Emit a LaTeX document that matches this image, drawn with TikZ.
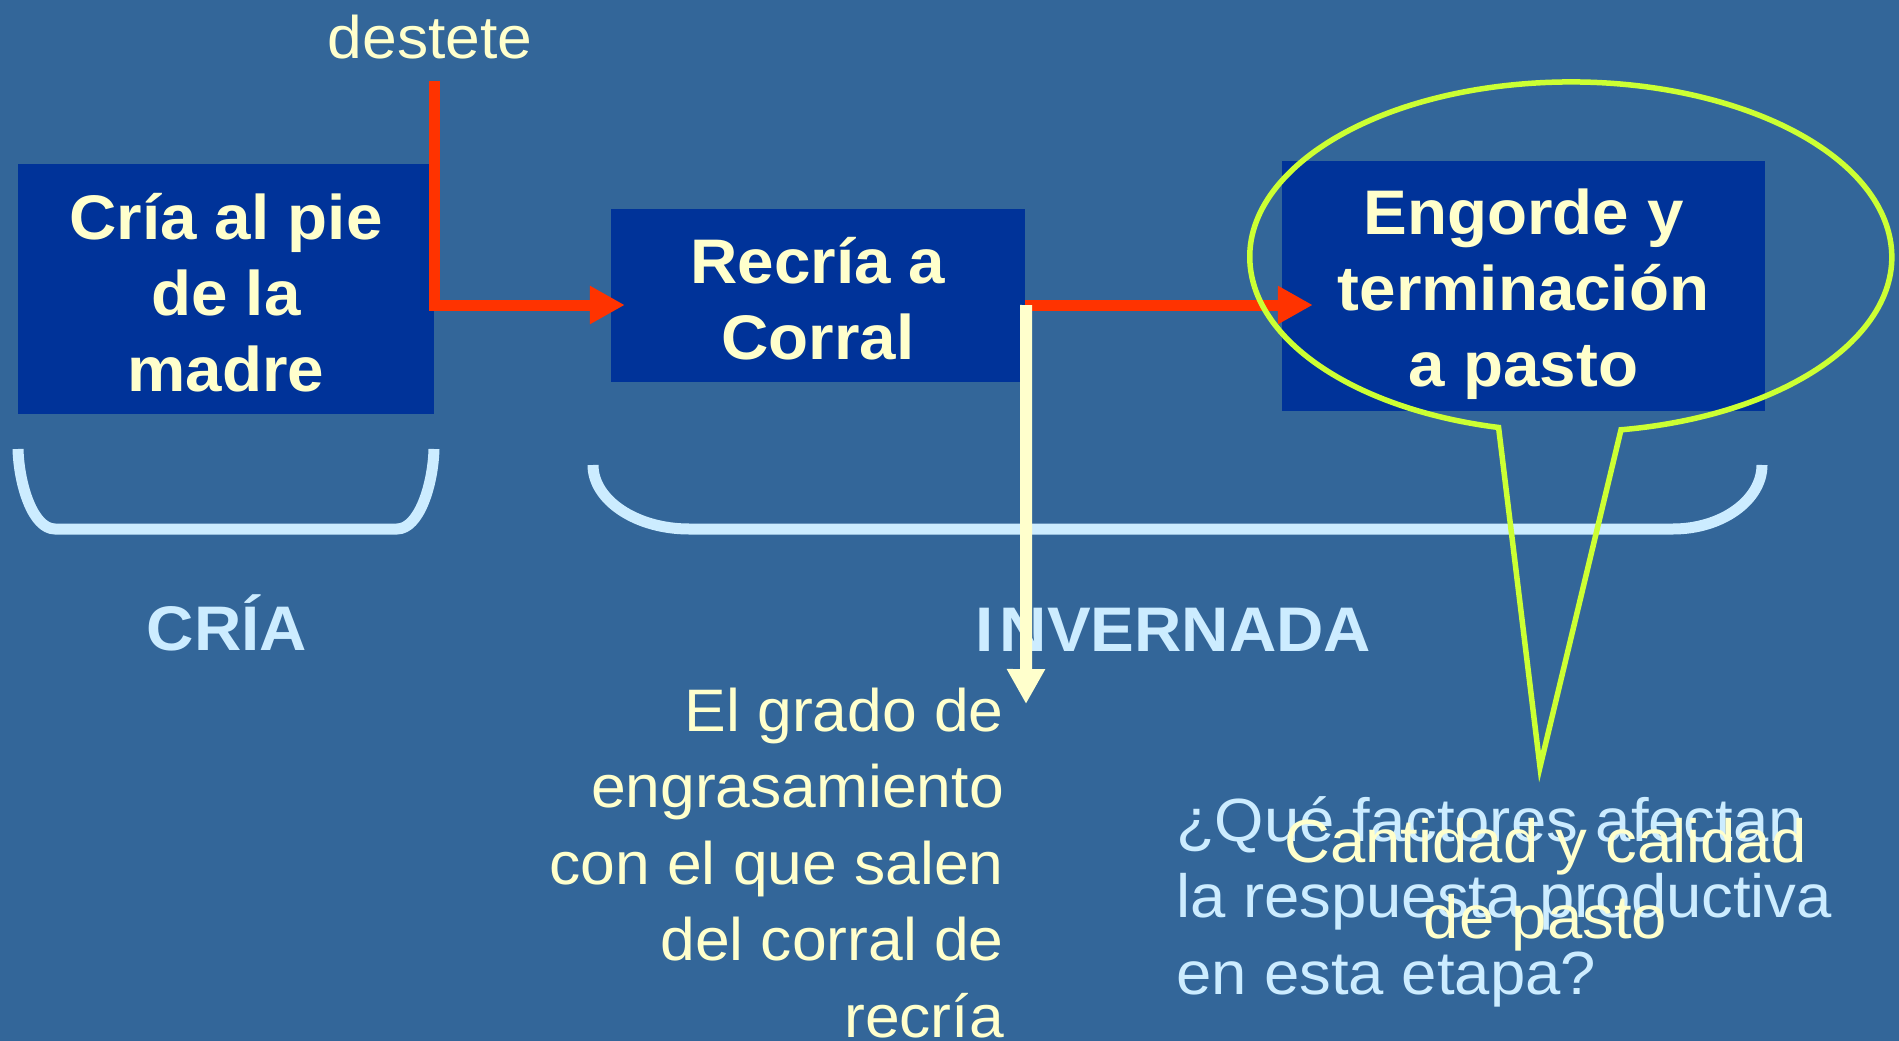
\documentclass[tikz,border=0pt]{standalone}
\usepackage{fontspec}
\setmainfont{Liberation Sans}
\newfontfamily\regf[FakeStretch=1.04]{Liberation Sans}
\usetikzlibrary{arrows.meta}
\definecolor{bgblue}{HTML}{336699}
\definecolor{boxblue}{HTML}{003399}
\definecolor{paleyellow}{HTML}{FFFFCC}
\definecolor{paleblue}{HTML}{CCECFF}
\definecolor{arrowred}{HTML}{FF3300}
\definecolor{limegreen}{HTML}{CCFF33}
\newcommand{\topstrut}{\rule{0pt}{55pt}}
\begin{document}
\begin{tikzpicture}[x=1pt,y=-1pt,
  stagebox/.style={fill=boxblue, inner sep=0pt},
  stagetext/.style={text=paleyellow, align=center, inner sep=0pt, anchor=north,
    font=\regf\bfseries\fontsize{63}{76}\selectfont},
  phase/.style={text=paleblue, inner sep=0pt, anchor=base,
    font=\regf\bfseries\fontsize{63}{76}\selectfont},
  note/.style={inner sep=0pt, font=\regf\fontsize{60}{76.5}\selectfont},
  bracket/.style={draw=paleblue, line width=11pt},
  redarrow/.style={draw=arrowred, line width=11pt, line join=miter, -{Triangle[length=35pt,width=36pt]}},
  yellowarrow/.style={draw=paleyellow, line width=12pt, -{Triangle[length=35pt,width=36pt]}},
  callout/.style={draw=limegreen, line width=5.5pt, line join=miter, miter limit=25}
]
\fill[bgblue] (0,0) rectangle (1899,1041);
\useasboundingbox (0,0) rectangle (1899,1041);

% brackets
\draw[bracket] (18,449) .. controls (19,485) and (33,529) .. (55,529) -- (397,529)
  .. controls (419,529) and (433,485) .. (434,449);
\draw[bracket] (593,465) .. controls (593,500) and (636,529) .. (689,529) -- (1673,529)
  .. controls (1722,529) and (1762,500) .. (1762,465);

% stage boxes
\node[stagebox, minimum width=416pt, minimum height=250pt] (cria) at (226,289) {};
\node[stagebox, minimum width=414pt, minimum height=173pt] (recria) at (818,295.5) {};
\node[stagebox, minimum width=483pt, minimum height=250pt] (engorde) at (1523.5,286) {};
\node[stagetext] (criatxt) at (226,184) {\topstrut Cría al pie\\de la\\madre};
\node[stagetext] (recriatxt) at (818,228) {\topstrut Recría a\\Corral};
\node[stagetext] (engordetxt) at (1523.5,179) {\topstrut Engorde y\\terminación\\a pasto};

% phase labels
\node[phase] (lcria) at (227,650) {CRÍA};
\node[phase] (linv) at (1173.5,651) {I\kern6pt NVERNADA};

% notes
\node[note, text=paleyellow, anchor=base] (destete) at (430,59) {destete};
\node[note, text=paleyellow, align=right, anchor=north east] (grado) at (1004,676)
  {\topstrut El grado de\\engrasamiento\\con el que salen\\del corral de\\recría};
\node[note, text=paleblue, align=left, anchor=north west, font=\regf\fontsize{61}{76.5}\selectfont] (pregunta) at (1176,786)
  {\topstrut¿Qué factores afectan\\la respuesta productiva\\en esta etapa?};
\node[note, text=paleyellow, align=center, anchor=north, font=\regf\fontsize{61}{76}\selectfont] (pasto) at (1545.5,807)
  {\topstrut Cantidad y calidad\\de pasto};

% arrows
\coordinate (wean) at (434,81);
\draw[redarrow] (wean) |- ([xshift=14pt,yshift=-9.5pt]recria.west);
\draw[redarrow] ([yshift=-9.5pt]recria.east) -- ([xshift=31pt,yshift=-19pt]engorde.west);
\coordinate (gradotip) at (1026,704);
\draw[yellowarrow] ([xshift=1pt,yshift=-9.5pt]recria.east) -- (gradotip);

% callout
\draw[callout] (1621,429.8) arc[start angle=81, end angle=-257, x radius=321, y radius=175]
  -- (1540,767) -- cycle;
\end{tikzpicture}
\end{document}
